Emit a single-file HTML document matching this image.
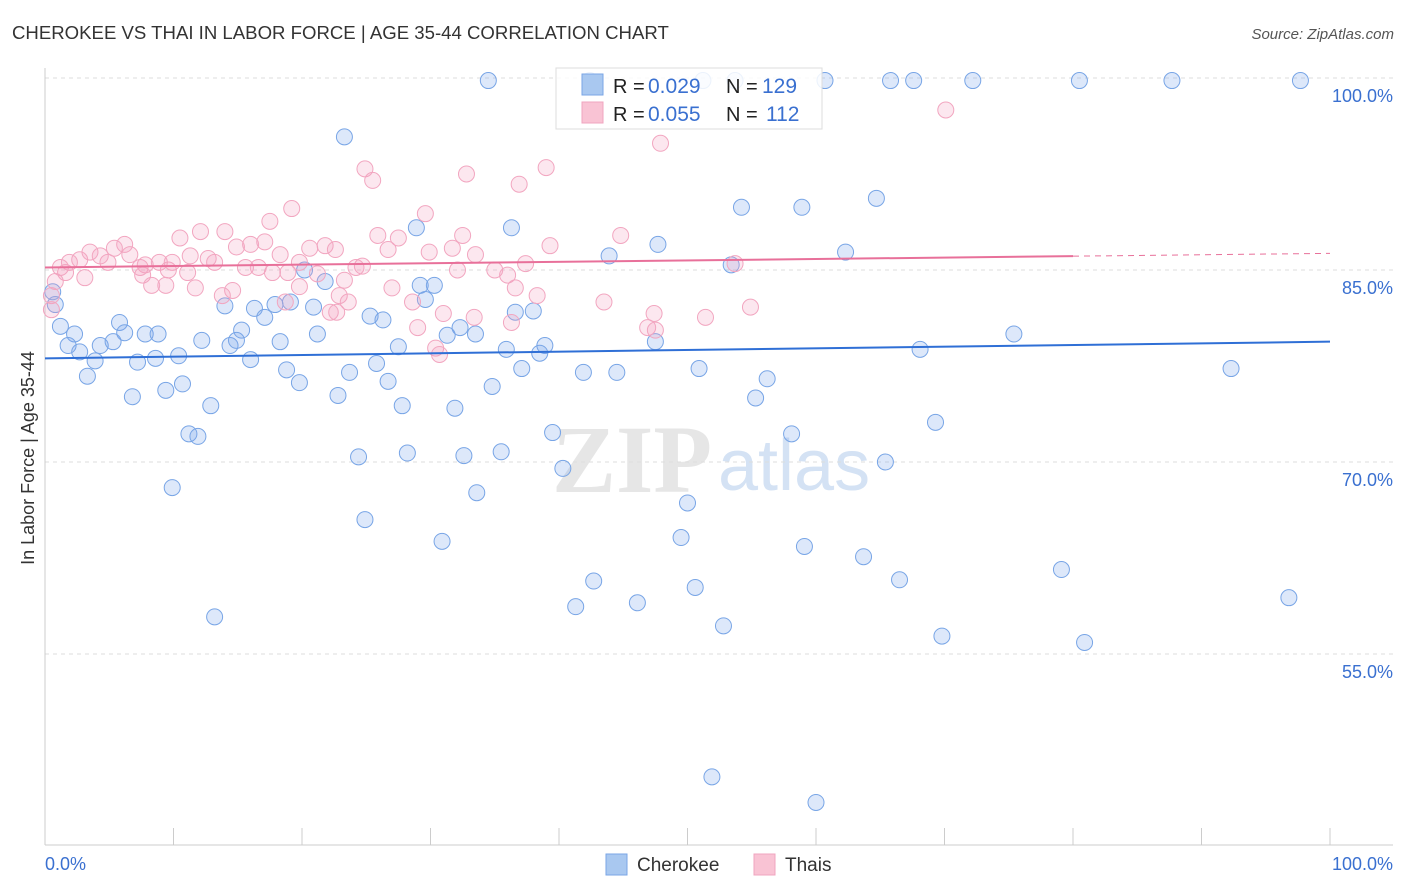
<!DOCTYPE html>
<html><head><meta charset="utf-8"><style>
body{margin:0;background:#fff;font-family:"Liberation Sans",sans-serif}
svg{display:block}
</style></head><body>
<svg id="c" width="1406" height="892" xmlns="http://www.w3.org/2000/svg">
<text x="12" y="39" font-size="18.6" fill="#333">CHEROKEE VS THAI IN LABOR FORCE | AGE 35-44 CORRELATION CHART</text>
<text x="1394" y="39" font-size="15" fill="#555" font-style="italic" text-anchor="end">Source: ZipAtlas.com</text>
<text x="34" y="458" font-size="18" fill="#333" transform="rotate(-90 34 458)" text-anchor="middle">In Labor Force | Age 35-44</text>
<g><text x="552" y="492" font-size="96" font-family="Liberation Serif" fill="#e6e6e6" font-weight="bold">ZIP</text><text x="718" y="490" font-size="72" fill="#d4e2f4">atlas</text></g>
<g id="grid"></g><g id="pts"></g><g id="trend"></g>
<g>
<rect x="556" y="68" width="266" height="61" fill="#fff" fill-opacity="0.85" stroke="#ddd"/>
<rect x="582" y="74" width="21" height="21" fill="#a9c8f0" stroke="#7aa6e6"/>
<rect x="582" y="102" width="21" height="21" fill="#f9c3d4" stroke="#f0a5bf"/>
<text x="613" y="93" font-size="20" fill="#222">R =</text>
<text x="648" y="93" font-size="21" fill="#3a70d0">0.029</text>
<text x="726" y="93" font-size="20" fill="#222">N =</text>
<text x="762" y="93" font-size="21" fill="#3a70d0">129</text>
<text x="613" y="121" font-size="20" fill="#222">R =</text>
<text x="648" y="121" font-size="21" fill="#3a70d0">0.055</text>
<text x="726" y="121" font-size="20" fill="#222">N =</text>
<text x="766" y="121" font-size="21" fill="#3a70d0">112</text>
</g>
<g>
<rect x="606" y="854" width="21" height="21" fill="#a9c8f0" stroke="#7aa6e6"/>
<text x="637" y="871" font-size="19" fill="#333">Cherokee</text>
<rect x="754" y="854" width="21" height="21" fill="#f9c3d4" stroke="#f0a5bf"/>
<text x="785" y="871" font-size="19" fill="#333">Thais</text>
</g>
</svg>
<script>
const yTicks=[100,85,70,55];
const yTickLabels=["100.0%","85.0%","70.0%","55.0%"];
const xTickLabels=["0.0%","100.0%"];
const blueX=[34.5,42.4,53.7,60.7,65.8,67.6,72.2,80.5,87.7,97.7,51.2,23.3,54.2,58.9,64.7,36.3,28.9,47.7,43.9,62.3,53.4,20.2,29.2,30.3,29.6,21.8,17.9,19.1,16.3,14.0,20.9,17.1,25.3,26.3,36.6,38.0,32.3,31.3,33.5,75.4,0.8,1.2,2.3,5.8,6.2,7.8,8.8,1.8,4.3,5.3,2.7,3.9,7.2,8.6,10.4,12.2,15.3,14.4,14.9,16.0,18.3,21.2,27.5,35.9,38.9,38.5,47.5,68.1,3.3,18.8,23.7,25.8,26.7,37.1,41.9,44.5,50.9,56.2,92.3,6.8,9.4,10.7,19.8,22.8,34.8,55.3,12.9,27.8,31.9,11.2,11.9,39.5,58.1,69.3,24.4,28.2,32.6,35.5,40.3,65.4,9.9,33.6,50.0,24.9,30.9,49.5,59.1,63.7,79.1,42.7,50.6,66.5,41.3,46.1,96.8,13.2,52.8,69.8,80.9,51.9,60.0,0.6];
const blueY=[99.8,99.8,99.8,99.8,99.8,99.8,99.8,99.8,99.8,99.8,99.8,95.4,89.9,89.9,90.6,88.3,88.3,87.0,86.1,86.4,85.4,85.0,83.8,83.8,82.7,84.1,82.3,82.5,82.0,82.2,82.1,81.3,81.4,81.1,81.7,81.8,80.5,79.9,80.0,80.0,82.3,80.6,80.0,80.9,80.1,80.0,80.0,79.1,79.1,79.4,78.6,77.9,77.8,78.1,78.3,79.5,80.3,79.1,79.5,78.0,79.4,80.0,79.0,78.8,79.1,78.5,79.4,78.8,76.7,77.2,77.0,77.7,76.3,77.3,77.0,77.0,77.3,76.5,77.3,75.1,75.6,76.1,76.2,75.2,75.9,75.0,74.4,74.4,74.2,72.2,72.0,72.3,72.2,73.1,70.4,70.7,70.5,70.8,69.5,70.0,68.0,67.6,66.8,65.5,63.8,64.1,63.4,62.6,61.6,60.7,60.2,60.8,58.7,59.0,59.4,57.9,57.2,56.4,55.9,45.4,43.4,83.3];
const pinkX=[70.1,47.9,24.9,25.5,39.0,32.8,36.9,19.2,29.6,17.5,12.1,14.0,10.5,25.9,27.5,32.5,44.8,17.1,16.0,14.9,6.2,5.4,3.5,4.3,6.6,20.6,21.8,22.6,26.7,29.9,31.7,33.5,39.3,18.3,11.3,12.7,13.2,8.9,7.8,4.9,2.7,1.9,1.2,1.6,7.4,9.6,9.9,15.6,16.6,19.8,24.7,24.2,32.1,35.0,37.4,36.0,3.1,7.6,11.1,17.7,18.9,21.2,23.3,8.3,9.4,11.7,14.6,13.8,19.8,27.0,36.6,38.3,22.9,18.7,28.6,23.6,22.2,22.7,31.0,33.4,36.3,43.5,47.4,51.4,54.9,46.9,47.5,29.0,30.4,30.7,53.7,0.5,0.5,0.8];
const pinkY=[97.5,94.9,92.9,92.0,93.0,92.5,91.7,89.8,89.4,88.8,88.0,88.0,87.5,87.7,87.5,87.7,87.7,87.2,87.0,86.8,87.0,86.7,86.4,86.1,86.2,86.7,86.9,86.6,86.6,86.4,86.7,86.2,86.9,86.2,86.1,85.9,85.6,85.6,85.4,85.6,85.8,85.6,85.2,84.8,85.2,85.0,85.6,85.2,85.2,85.6,85.3,85.2,85.0,85.0,85.5,84.6,84.4,84.6,84.8,84.8,84.8,84.7,84.2,83.8,83.8,83.6,83.4,83.0,83.7,83.6,83.6,83.0,83.0,82.5,82.5,82.5,81.7,81.7,81.6,81.3,80.9,82.5,81.6,81.3,82.1,80.5,80.3,80.5,78.9,78.4,85.5,83.0,81.9,84.1];
const blueTrend=[78.1,79.4];
const pinkTrend=[85.2,86.3];
const NS="http://www.w3.org/2000/svg";
const sx=v=>45+v*12.85, sy=v=>78+(100-v)*12.8;
function mk(t,a,p){const e=document.createElementNS(NS,t);for(const k in a)e.setAttribute(k,a[k]);p.appendChild(e);return e;}
const g=document.getElementById('grid');
yTicks.forEach((t,i)=>{const l=mk('line',{x1:45,x2:1393,y1:sy(t),y2:sy(t),stroke:'#ddd','stroke-dasharray':'4,4'},g);


const tx=mk('text',{x:1393,y:sy(t)+24,'font-size':18,fill:'#3a70d0','text-anchor':'end'},g);tx.textContent=yTickLabels[i];

});
mk('line',{x1:45,x2:45,y1:68,y2:845,stroke:'#ccc'},g);
mk('line',{x1:45,x2:1393,y1:845,y2:845,stroke:'#ccc'},g);
for(let i=1;i<=10;i++){mk('line',{x1:sx(i*10),x2:sx(i*10),y1:828,y2:845,stroke:'#ccc'},g);}
const t0=mk('text',{x:45,y:870,'font-size':18,fill:'#3a70d0'},g);t0.textContent=xTickLabels[0];

const t1=mk('text',{x:1393,y:870,'font-size':18,fill:'#3a70d0','text-anchor':'end'},g);t1.textContent=xTickLabels[1];

const P=document.getElementById('pts');
blueX.forEach((x,i)=>{const c=mk('circle',{cx:sx(x),cy:sy(blueY[i]),r:8,fill:'rgba(120,165,235,0.25)',stroke:'#78a5e6','stroke-width':1},P);

});
pinkX.forEach((x,i)=>{const c=mk('circle',{cx:sx(x),cy:sy(pinkY[i]),r:8,fill:'rgba(245,160,190,0.25)',stroke:'#f2a6c0','stroke-width':1},P);

});
const T=document.getElementById('trend');
const bl=mk('line',{x1:sx(0),y1:sy(blueTrend[0]),x2:sx(100),y2:sy(blueTrend[1]),stroke:'#2f6fd6','stroke-width':2},T);

const pm=pinkTrend[0]+(pinkTrend[1]-pinkTrend[0])*0.8;
const pl=mk('line',{x1:sx(0),y1:sy(pinkTrend[0]),x2:sx(80),y2:sy(pm),stroke:'#e8709a','stroke-width':2},T);

const pd=mk('line',{x1:sx(80),y1:sy(pm),x2:sx(100),y2:sy(pinkTrend[1]),stroke:'#e8709a','stroke-width':1,'stroke-dasharray':'6,5'},T);

</script>
</body></html>
